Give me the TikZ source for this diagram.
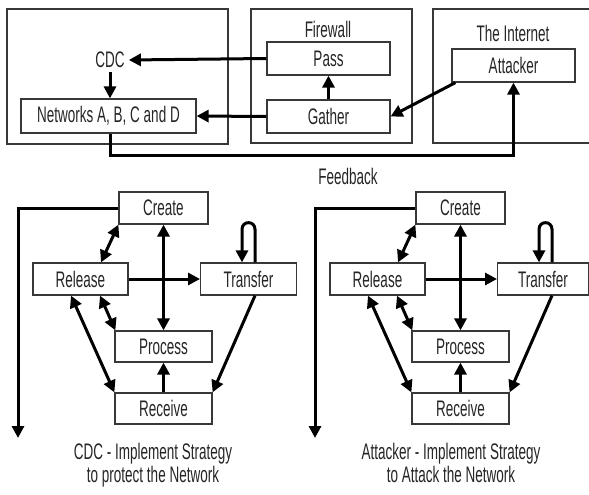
\documentclass[tikz,border=0pt]{standalone}
\usepackage{fontspec}
\setmainfont{Liberation Sans}[FakeStretch=0.6]
\usetikzlibrary{arrows.meta}
\begin{document}
\begin{tikzpicture}[x=1pt,y=-1pt,
  font=\fontsize{22.5}{24}\selectfont,
  box/.style 2 args={draw=black!78, line width=1.2pt, text=black!85, inner sep=0pt,
    minimum width=#1, minimum height=#2},
  lbl/.style={text=black!85, inner sep=2pt},
  arr/.style={line width=3pt, -{Triangle[length=12pt,width=12pt]}},
  darr/.style={line width=3pt, {Triangle[length=12pt,width=12pt]}-{Triangle[length=12pt,width=12pt]}},
  plain/.style={line width=3pt}
]
\useasboundingbox (0,0) rectangle (589,495);
\fill[white] (0,0) rectangle (589,495);
\clip (0,0) rectangle (589,495);

% ---------- top part ----------
\node[box={221}{135}] (outL) at (117.5,76.5) {};
\node[box={161}{134}] (outM) at (331.5,76) {};
\node[box={170}{134}] (outR) at (518,76) {};
\node[lbl] (fw) at (328,29.5) {Firewall};
\node[lbl] (inet) at (513,33.5) {The Internet};
\node[box={123}{33}] (pass) at (328.5,58.5) {Pass};
\node[box={123}{33}] (gather) at (328.5,116.5) {Gather};
\node[box={123}{33}] (attacker) at (513.5,65.5) {Attacker};
\node[box={175}{34}] (nets) at (108.5,116) {Networks A, B, C and D};
\node[lbl, inner sep=4pt] (cdc) at (110,60) {CDC};
\node[lbl] (fb) at (348,176) {Feedback};

\draw[arr] (pass.west) -- (cdc.east);
\draw[arr] (cdc.south) -- (cdc.south |- nets.north);
\draw[arr] (gather.west) -- (nets.east);
\draw[arr] (gather.north) -- (pass.south);
\draw[arr] ([xshift=4pt]attacker.south west) -- (gather.east);
\draw[arr] ([xshift=1.5pt]nets.south) -- ++(0,22) -| (attacker.south);

% ---------- bottom diagrams ----------
\foreach \dx/\p/\tw in {0/L/96, 297/R/91} {
  \node[box={89}{32}] (\p create) at (163.5+\dx,208) {Create};
  \node[box={95}{32}] (\p release) at (80.5+\dx,279) {Release};
  \node[box={\tw}{32}, anchor=west] (\p transfer) at (200+\dx,279) {Transfer};
  \node[box={97}{31}] (\p process) at (163.5+\dx,346.5) {Process};
  \node[box={97}{31}] (\p receive) at (163.5+\dx,408.5) {Receive};
  \coordinate (\p end) at (18+\dx,438);

  \draw[arr] (\p create.west) -| (\p end);
  \draw[darr] (\p create.south west) -- ([xshift=20.5pt]\p release.north);
  \draw[darr] (\p create.south) -- (\p process.north);
  \draw[arr] (\p release.east) -- (\p transfer.west);
  \draw[arr] ([xshift=55pt]\p transfer.north west) -- ++(0,-33)
     .. controls +(0,-9) and +(0,-9) .. ([xshift=42pt,yshift=33pt]\p transfer.north west)
     -- ([xshift=42pt]\p transfer.north west);
  \draw[darr] ([xshift=19.5pt]\p release.south) -- ([xshift=1pt]\p process.north west);
  \draw[darr] ([xshift=-9.5pt]\p release.south) -- (\p receive.north west);
  \draw[arr] ([xshift=55pt]\p transfer.south west) -- (\p receive.north east);
  \draw[arr] (\p receive.north) -- (\p process.south);
}

\node[lbl, anchor=base] (capL1) at (153,459) {CDC - Implement Strategy};
\node[lbl, anchor=base] (capL2) at (153,482) {to protect the Network};
\node[lbl, anchor=base] (capR1) at (451,459) {Attacker - Implement Strategy};
\node[lbl, anchor=base] (capR2) at (451,482) {to Attack the Network};
\end{tikzpicture}
\end{document}
